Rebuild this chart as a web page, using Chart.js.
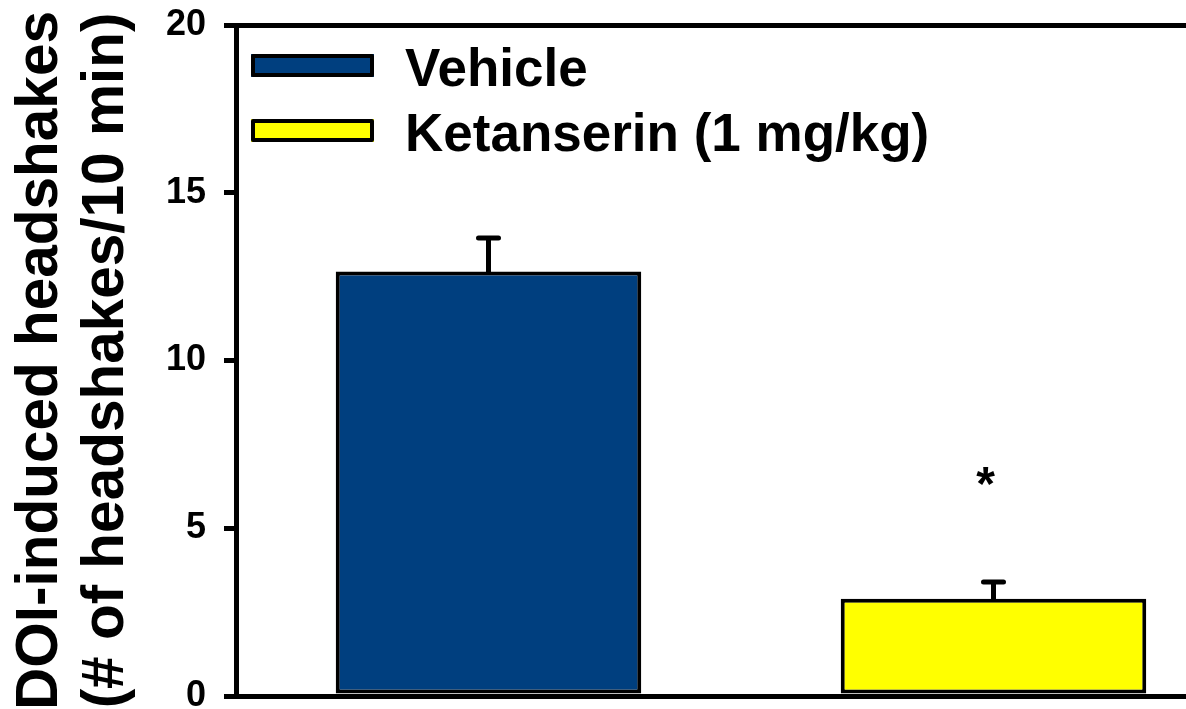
<!DOCTYPE html>
<html>
<head>
<meta charset="utf-8">
<script src="https://cdn.jsdelivr.net/npm/chart.js@4/dist/chart.umd.min.js"></script>
<style>
    html, body { margin: 0; padding: 0; background: #fff; overflow: hidden; }
    #wrap { width: 1250px; height: 730px; position: relative; }
</style>
</head>
<body>
<div id="wrap"><canvas id="myChart"></canvas></div>
<script>
// DOI-induced headshakes, mean +/- SEM per treatment group
const groups = ['Vehicle', 'Ketanserin (1 mg/kg)'];
const meanHeadshakes = [12.65, 2.9];
const semHeadshakes = [1.0, 0.5];
const significant = [false, true];
const yTicks = [0, 5, 10, 15, 20];
const barColors = ['#003F7F', '#FFFF00'];

const FONT = "'Liberation Sans', Arial, Helvetica, sans-serif";

// whiskers (upper only) and the significance star
const errorBars = {
    id: 'errorBars',
    afterDatasetsDraw(chart) {
        const ctx = chart.ctx;
        const y = chart.scales.y;
        const bars = chart.getDatasetMeta(0).data;
        ctx.save();
        ctx.strokeStyle = '#000';
        ctx.lineWidth = 5;
        ctx.lineCap = 'round';
        bars.forEach((bar, i) => {
            const top = y.getPixelForValue(meanHeadshakes[i] + semHeadshakes[i]);
            ctx.beginPath();
            ctx.moveTo(bar.x, bar.y);
            ctx.lineTo(bar.x, top);
            ctx.moveTo(bar.x - 10, top);
            ctx.lineTo(bar.x + 10, top);
            ctx.stroke();
            if (significant[i]) {
                ctx.fillStyle = '#000';
                ctx.font = 'bold 48px ' + FONT;
                ctx.textAlign = 'center';
                ctx.textBaseline = 'alphabetic';
                ctx.fillText('*', bar.x - 8, top - 82);
            }
        });
        ctx.restore();
    }
};

// legend boxes drawn inside the plot area, top left
const insideLegend = {
    id: 'insideLegend',
    afterDraw(chart) {
        const ctx = chart.ctx;
        const left = chart.chartArea.left + 15;
        const top = chart.chartArea.top + 29;
        ctx.save();
        groups.forEach((name, i) => {
            const by = top + i * 65;
            ctx.fillStyle = barColors[i];
            ctx.fillRect(left, by, 123, 23);
            ctx.strokeStyle = '#000';
            ctx.lineWidth = 4;
            ctx.lineJoin = 'round';
            ctx.strokeRect(left + 2, by + 2, 119, 19);
            ctx.fillStyle = '#000';
            ctx.font = 'bold 53px ' + FONT;
            ctx.textAlign = 'left';
            ctx.textBaseline = 'alphabetic';
            ctx.fillText(name, left + 154, by + 32);
        });
        ctx.restore();
    }
};

const chart = new Chart(document.getElementById('myChart'), {
    type: 'bar',
    data: {
        labels: groups,
        datasets: [{
            label: 'Headshakes',
            data: meanHeadshakes,
            backgroundColor: barColors,
            borderColor: '#000',
            borderWidth: 4,
            borderSkipped: false,
            barPercentage: 0.605,
            categoryPercentage: 1.0
        }]
    },
    options: {
        responsive: true,
        maintainAspectRatio: false,
        animation: false,
        layout: { padding: { top: 25, right: 4, bottom: 34, left: 0 } },
        plugins: {
            legend: { display: false },
            tooltip: { enabled: false }
        },
        scales: {
            x: {
                ticks: { display: false },
                grid: { display: false, drawTicks: false },
                border: { display: true, color: '#000', width: 5 },
                afterFit: (scale) => { scale.height = 0; }
            },
            y: {
                min: 0,
                max: 20,
                afterBuildTicks: (scale) => { scale.ticks = yTicks.map(v => ({ value: v })); },
                afterFit: (scale) => {
                    scale.width = 236;
                    // end labels may overhang the plot edges
                    scale.paddingTop = 0;
                    scale.paddingBottom = 0;
                },
                ticks: {
                    color: '#000',
                    padding: 18,
                    font: { family: FONT, size: 36, weight: 'bold' }
                },
                grid: {
                    lineWidth: 5,
                    tickLength: 12,
                    tickColor: '#000',
                    color: (c) => (c.tick && c.tick.value === 20 ? '#000' : 'rgba(0,0,0,0)')
                },
                border: { display: true, color: '#000', width: 5 },
                title: {
                    display: true,
                    text: ['DOI-induced headshakes', '(# of headshakes/10 min)'],
                    color: '#000',
                    padding: { top: 8, bottom: 0 },
                    font: { family: FONT, size: 58.5, weight: 'bold', lineHeight: 1.13 }
                }
            }
        }
    },
    plugins: [errorBars, insideLegend]
});
</script>
</body>
</html>
